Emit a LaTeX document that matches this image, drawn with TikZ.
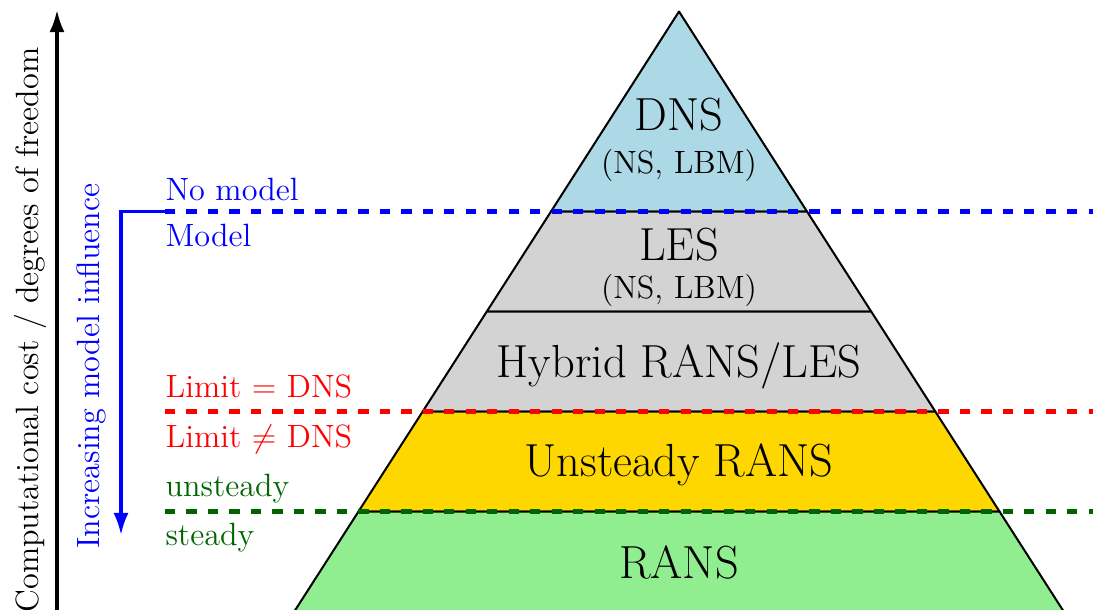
\documentclass[tikz,border=0pt]{standalone}
\usetikzlibrary{arrows.meta}
\definecolor{lblue}{RGB}{173,216,230}
\definecolor{lgray}{RGB}{211,211,211}
\definecolor{lgold}{RGB}{255,215,0}
\definecolor{lgreen}{RGB}{144,238,144}
\definecolor{dgreen}{RGB}{0,100,0}
\begin{document}
\begin{tikzpicture}[x=0.3724pt,y=-0.3724pt,
  layer/.style={draw=black,line width=0.75pt,line join=round},
  bigtext/.style={font=\fontsize{17.28}{20}\selectfont,inner sep=0pt,anchor=base},
  smalltext/.style={font=\fontsize{12}{14}\selectfont,inner sep=0pt},
  sidelabel/.style={smalltext,anchor=base west},
  limitline/.style={line width=2.2pt,dash pattern=on 3.8pt off 4.2pt},
  axisarrow/.style={line width=1.2pt,-{Latex[length=8.2pt,width=5.6pt]}}]
\useasboundingbox (0,0) rectangle (1093,609);
\clip (0,0) rectangle (1093,609);
% pyramid corners
\coordinate (apex) at (679,11.5);
\coordinate (l1) at (551.0,211.5); \coordinate (r1) at (807.0,211.5);
\coordinate (l2) at (486.8,311.5); \coordinate (r2) at (871.2,311.5);
\coordinate (l3) at (422.7,411.5); \coordinate (r3) at (935.3,411.5);
\coordinate (l4) at (358.5,511.5); \coordinate (r4) at (999.5,511.5);
\coordinate (l5) at (294.3,611.5); \coordinate (r5) at (1063.7,611.5);
% layers
\filldraw[layer,fill=lblue] (apex) -- (r1) -- (l1) -- cycle;
\filldraw[layer,fill=lgray] (l1) -- (r1) -- (r2) -- (l2) -- cycle;
\filldraw[layer,fill=lgray] (l2) -- (r2) -- (r3) -- (l3) -- cycle;
\filldraw[layer,fill=lgold] (l3) -- (r3) -- (r4) -- (l4) -- cycle;
\filldraw[layer,fill=lgreen] (l4) -- (r4) -- (r5) -- (l5) -- cycle;
% layer texts
\node[bigtext] (dns) at (679,130) {DNS};
\node[smalltext,anchor=base] (dnsm) at (679,173) {(NS, LBM)};
\node[bigtext] (les) at (679,260) {LES};
\node[smalltext,anchor=base] (lesm) at (679,298) {(NS, LBM)};
\node[bigtext] (hyb) at (679,377) {Hybrid RANS/LES};
\node[bigtext] (urans) at (679,476) {Unsteady RANS};
\node[bigtext] (rans) at (679,578) {RANS};
% dashed limit lines
\coordinate (bs) at (165,211.5); \coordinate (be) at (1093,211.5);
\coordinate (rs) at (165,411.5); \coordinate (re) at (1093,411.5);
\coordinate (gs) at (165,511.5); \coordinate (ge) at (1093,511.5);
\draw[limitline,blue] (bs) -- (be);
\draw[limitline,red] (rs) -- (re);
\draw[limitline,dgreen] (gs) -- (ge);
% side labels
\node[sidelabel,text=blue] (nomodel) at (165,200.5) {No model};
\node[sidelabel,text=blue] (model) at (165,246) {Model};
\node[sidelabel,text=red] (limeq) at (165,397) {Limit $=$ DNS};
\node[sidelabel,text=red] (limne) at (165,447) {Limit $\neq$ DNS};
\node[sidelabel,text=dgreen] (unst) at (165,496) {unsteady};
\node[sidelabel,text=dgreen] (st) at (165,545) {steady};
% model influence arrow
\coordinate (bend) at (121,211.5);
\coordinate (btip) at (121,535);
\draw[axisarrow,blue,line width=1.25pt] (bs) -- (bend) -- (btip);
\node[smalltext,text=blue,rotate=90,anchor=base] (infl) at (99,366) {Increasing model influence};
% cost axis
\coordinate (ax0) at (57,612);
\coordinate (ax1) at (57,10);
\draw[axisarrow,black] (ax0) -- (ax1);
\node[smalltext,rotate=90,anchor=base] (cost) at (38,330) {Computational cost / degrees of freedom};
\end{tikzpicture}
\end{document}
